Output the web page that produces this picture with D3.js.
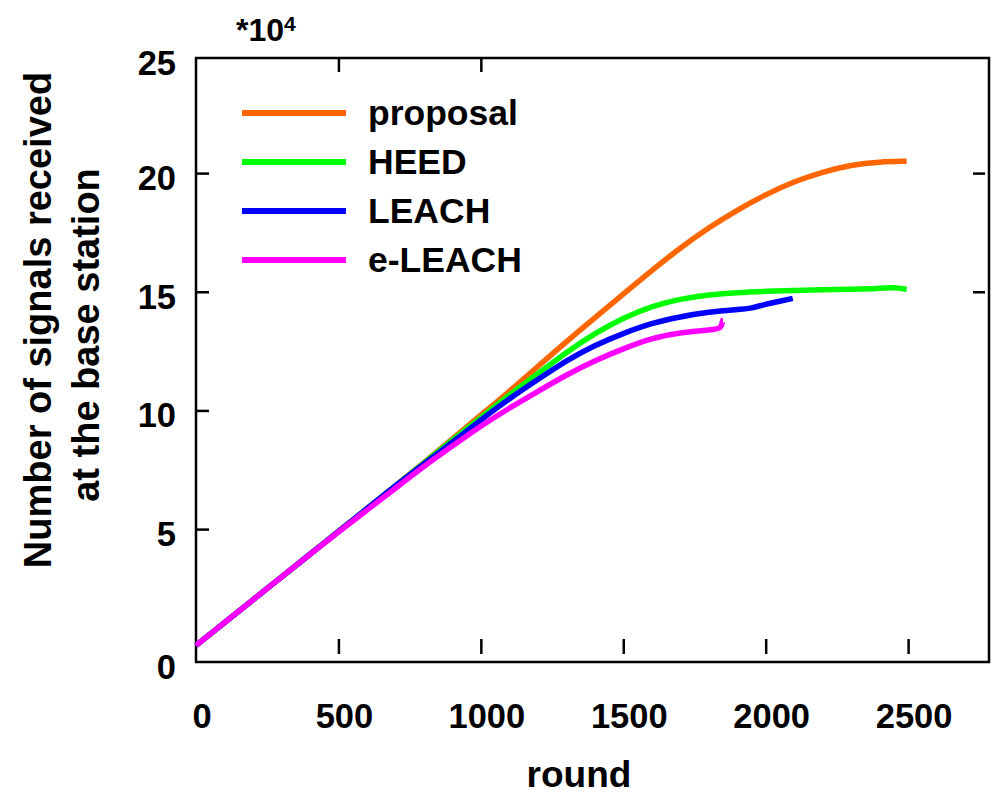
<!DOCTYPE html>
<html lang="en">
    <head>
        <meta charset="utf-8">
        <script src="https://d3js.org/d3.v7.min.js"></script>
        <style>
            body { margin: 0; background: #fff; }
            text { font-family: "Liberation Sans", Arial, sans-serif; font-weight: bold; fill: #000; }
        </style>
        <title>Signals received</title>
    </head>
    <body>
        <div id="chart"></div>
        <script>
            // values, y in units of 10^4
            var proposalRound = [0, 100, 200, 300, 400, 500, 600, 700, 800, 900, 1000, 1100, 1200, 1300, 1400, 1500, 1600, 1700, 1800, 1900, 2000, 2100, 2200, 2300, 2400, 2495];
            var proposalValue = [0.1, 1.06, 2.02, 2.98, 3.94, 4.9, 5.86, 6.82, 7.8, 8.8, 9.8, 10.8, 11.85, 12.9, 13.9, 14.9, 15.9, 16.85, 17.7, 18.45, 19.1, 19.65, 20.05, 20.35, 20.48, 20.5];

            var heedRound = [0, 100, 200, 300, 400, 500, 600, 700, 800, 900, 1000, 1100, 1200, 1300, 1400, 1500, 1600, 1700, 1800, 1900, 2000, 2100, 2200, 2300, 2400, 2450, 2495];
            var heedValue = [0.1, 1.06, 2.02, 2.98, 3.94, 4.9, 5.86, 6.82, 7.78, 8.75, 9.7, 10.65, 11.55, 12.45, 13.25, 13.9, 14.4, 14.7, 14.88, 14.97, 15.02, 15.06, 15.09, 15.11, 15.13, 15.2, 15.1];

            var leachRound = [0, 100, 200, 300, 400, 500, 600, 700, 800, 900, 1000, 1100, 1200, 1300, 1400, 1500, 1600, 1700, 1800, 1900, 1950, 2000, 2050, 2095];
            var leachValue = [0.1, 1.06, 2.02, 2.98, 3.94, 4.9, 5.86, 6.82, 7.75, 8.65, 9.6, 10.5, 11.3, 12.1, 12.75, 13.25, 13.68, 13.95, 14.15, 14.25, 14.3, 14.48, 14.6, 14.72];

            var eleachRound = [0, 100, 200, 300, 400, 500, 600, 700, 800, 900, 1000, 1100, 1200, 1300, 1400, 1500, 1600, 1700, 1800, 1845, 1848, 1850];
            var eleachValue = [0.1, 1.06, 2.02, 2.98, 3.94, 4.88, 5.8, 6.72, 7.65, 8.5, 9.35, 10.1, 10.8, 11.5, 12.1, 12.6, 13.05, 13.28, 13.4, 13.42, 13.8, 13.8];

            var seriesNames = ["proposal", "HEED", "LEACH", "e-LEACH"];
            var seriesColors = ["#ff6600", "#00ff00", "#0000ff", "#ff00ff"];

            var xTicks = [0, 500, 1000, 1500, 2000, 2500];
            var yTicks = [0, 5, 10, 15, 20, 25];

            var series = [
                {name: seriesNames[0], rounds: proposalRound, values: proposalValue},
                {name: seriesNames[1], rounds: heedRound, values: heedValue},
                {name: seriesNames[2], rounds: leachRound, values: leachValue},
                {name: seriesNames[3], rounds: eleachRound, values: eleachValue}
            ];

            var margin = {top: 58, right: 9, bottom: 134, left: 196},
                width = 998 - margin.left - margin.right,
                height = 796 - margin.top - margin.bottom;

            var svg = d3.select("#chart")
                .append("svg")
                    .attr("width", width + margin.left + margin.right)
                    .attr("height", height + margin.top + margin.bottom)
                .append("g")
                    .attr("transform", "translate(" + margin.left + "," + margin.top + ")");

            var x = d3.scaleLinear()
                .domain([0, 2784])
                .range([0, width]);

            var y = d3.scaleLinear()
                .domain([-0.6, 24.85])
                .range([height, 0]);

            // tick marks (gnuplot style, only some mirrored)
            svg.append("g")
                .attr("transform", "translate(0," + (height - 8) + ")")
                .call(d3.axisBottom(x).tickValues(xTicks.slice(1)).tickSize(-15).tickFormat(""))
                .call(g => g.select(".domain").remove());

            svg.append("g")
                .call(d3.axisTop(x).tickValues(xTicks.slice(1, 3)).tickSize(-14).tickFormat(""))
                .call(g => g.select(".domain").remove());

            svg.append("g")
                .call(d3.axisLeft(y).tickValues(yTicks.slice(1, 5)).tickSize(-13).tickFormat(""))
                .call(g => g.select(".domain").remove());

            svg.append("g")
                .attr("transform", "translate(" + (width - 4) + ",0)")
                .call(d3.axisRight(y).tickValues(yTicks.slice(3, 5)).tickSize(-12).tickFormat(""))
                .call(g => g.select(".domain").remove());

            svg.selectAll(".tick line")
                .attr("stroke", "#000")
                .attr("stroke-width", 2.5);

            // frame
            svg.append("rect")
                .attr("x", 0)
                .attr("y", 0)
                .attr("width", width)
                .attr("height", height)
                .attr("fill", "none")
                .attr("stroke", "#000")
                .attr("stroke-width", 2.5);

            // tick labels
            svg.selectAll(".xlab")
                .data(xTicks)
                .enter()
                .append("text")
                    .attr("class", "xlab")
                    .attr("x", d => x(d) + 6)
                    .attr("y", height + 66)
                    .attr("text-anchor", "middle")
                    .attr("font-size", 34.5)
                    .text(d => d);

            // first and last y labels sit on the frame edges, as in the original
            var yLabelPos = (v, i) => i === 0 ? height : (i === yTicks.length - 1 ? 0 : y(v));
            svg.selectAll(".ylab")
                .data(yTicks)
                .enter()
                .append("text")
                    .attr("class", "ylab")
                    .attr("x", -20)
                    .attr("y", (d, i) => yLabelPos(d, i) + 17)
                    .attr("text-anchor", "end")
                    .attr("font-size", 34.5)
                    .text(d => d);

            // curves
            var line = d3.line()
                .x(d => x(d[0]))
                .y(d => y(d[1]))
                .curve(d3.curveBasis);

            svg.selectAll(".curve")
                .data(series)
                .enter()
                .append("path")
                    .attr("class", "curve")
                    .attr("fill", "none")
                    .attr("stroke", (d, i) => seriesColors[i])
                    .attr("stroke-width", 5.5)
                    .attr("d", d => line(d.rounds.map((r, i) => [r, d.values[i]])));

            // legend
            var legend = svg.append("g")
                .attr("transform", "translate(46,55)");

            legend.selectAll("line")
                .data(seriesNames)
                .enter()
                .append("line")
                    .attr("x1", 0)
                    .attr("x2", 104)
                    .attr("y1", (d, i) => i * 49)
                    .attr("y2", (d, i) => i * 49)
                    .attr("stroke", (d, i) => seriesColors[i])
                    .attr("stroke-width", 6);

            legend.selectAll("text")
                .data(seriesNames)
                .enter()
                .append("text")
                    .attr("x", 126)
                    .attr("y", (d, i) => i * 49 + 12)
                    .attr("font-size", 35.5)
                    .text(d => d);

            // multiplier
            var mult = svg.append("text")
                .attr("x", 40)
                .attr("y", -17)
                .attr("font-size", 32);
            mult.append("tspan").text("*10");
            mult.append("tspan").attr("dy", -10).attr("font-size", 21).text("4");

            // axis titles
            svg.append("text")
                .attr("x", 383)
                .attr("y", height + 125)
                .attr("text-anchor", "middle")
                .attr("font-size", 37)
                .text("round");

            svg.append("text")
                .attr("transform", "translate(" + (51 - margin.left) + "," + 262 + ") rotate(-90)")
                .attr("text-anchor", "middle")
                .attr("font-size", 38)
                .text("Number of signals received");

            svg.append("text")
                .attr("transform", "translate(" + (99 - margin.left) + "," + 277 + ") rotate(-90)")
                .attr("text-anchor", "middle")
                .attr("font-size", 38)
                .text("at the base station");
        </script>
    </body>
</html>
